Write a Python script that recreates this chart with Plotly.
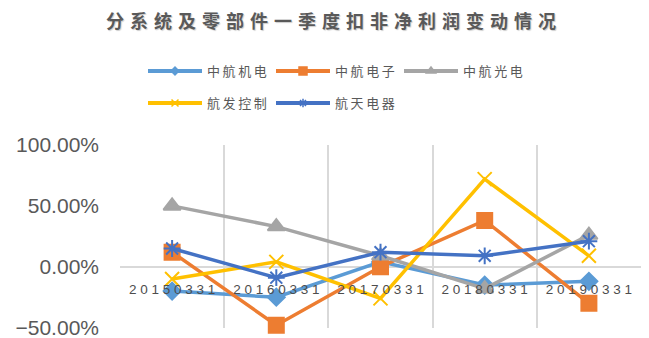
import plotly.graph_objects as go

categories = ["20150331", "20160331", "20170331", "20180331", "20190331"]
series_names = ["中航机电", "中航电子", "中航光电", "航发控制", "航天电器"]
v_jidian = [-0.20, -0.25, 0.04, -0.15, -0.12]
v_dianzi = [0.12, -0.48, 0.00, 0.38, -0.30]
v_guangdian = [0.50, 0.33, 0.09, -0.18, 0.26]
v_fakong = [-0.10, 0.04, -0.26, 0.72, 0.09]
v_dianqi = [0.15, -0.09, 0.12, 0.09, 0.21]
y_ticks = [-0.5, 0.0, 0.5, 1.0]
title_text = "分系统及零部件一季度扣非净利润变动情况"

values = [v_jidian, v_dianzi, v_guangdian, v_fakong, v_dianqi]
colors = ["#5B9BD5", "#ED7D31", "#A5A5A5", "#FFC000", "#4472C4"]
symbols = ["diamond", "square", "triangle-up", "x-thin-open", "asterisk-open"]
msizes = [13, 15, 15, 14, 14]
leg_msizes = [6, 8, 8, 7, 7]
legends = ["legend", "legend", "legend", "legend2", "legend2"]

fig = go.Figure()
for name, vals, c, s, ms in zip(series_names, values, colors, symbols, msizes):
    fig.add_trace(go.Scatter(
        x=categories, y=vals, name=name, mode="lines+markers",
        line=dict(color=c, width=3.5),
        marker=dict(symbol=s, size=ms, color=c, line=dict(color=c, width=2)),
        cliponaxis=False, showlegend=False,
    ))
for name, c, s, ms, lg in zip(series_names, colors, symbols, leg_msizes, legends):
    fig.add_trace(go.Scatter(
        x=[None], y=[None], name="\u2009".join(name), mode="lines+markers",
        line=dict(color=c, width=4),
        marker=dict(symbol=s, size=ms, color=c, line=dict(color=c, width=1.5)),
        legend=lg, showlegend=True,
    ))

W, H = 649, 338
gray = "#595959"
legend_common = dict(
    orientation="h", xref="container", yref="container",
    xanchor="left", yanchor="middle",
    font=dict(family="Noto Sans CJK SC", size=13, color=gray),
    entrywidth=59, entrywidthmode="pixels", itemwidth=54,
    bgcolor="rgba(0,0,0,0)", tracegroupgap=0,
)

fig.update_layout(
    width=W, height=H,
    margin=dict(l=120, r=8, t=145, b=10, autoexpand=False),
    paper_bgcolor="white", plot_bgcolor="white",
    title=dict(text="\u2004".join(title_text), xref="container", yref="container",
               x=331 / W, y=1 - 22 / H, xanchor="center", yanchor="middle",
               font=dict(family="Noto Sans CJK SC", size=18, color=gray, weight="bold",
                         shadow="1px 1px 1px rgba(0,0,0,0.2)")),
    legend=dict(x=143 / W, y=1 - 71 / H, **legend_common),
    legend2=dict(x=143 / W, y=1 - 103 / H, **legend_common),
    xaxis=dict(
        type="category", range=[-0.5, 4.5],
        tickvals=categories, ticktext=[" ".join(c) for c in categories],
        tickson="boundaries", showgrid=True, gridcolor="#D9D9D9", gridwidth=1.5,
        anchor="free", position=1 / 3, automargin=False,
        showline=False, ticks="", ticklabelstandoff=12,
        tickfont=dict(family="Liberation Sans", size=13.5, color="#4d4d4d"),
        zeroline=False, fixedrange=True, ticklabeloverflow="allow",
    ),
    yaxis=dict(
        range=[-0.503, 1.0], tickvals=y_ticks, tickformat=".2%", automargin=False,
        showgrid=False, zeroline=True, zerolinecolor="#D9D9D9", zerolinewidth=1.5,
        showline=False, ticks="", ticklabelstandoff=20, ticklabeloverflow="allow",
        tickfont=dict(family="Liberation Sans", size=21, color=gray),
    ),
)

fig.write_html("out.html")
